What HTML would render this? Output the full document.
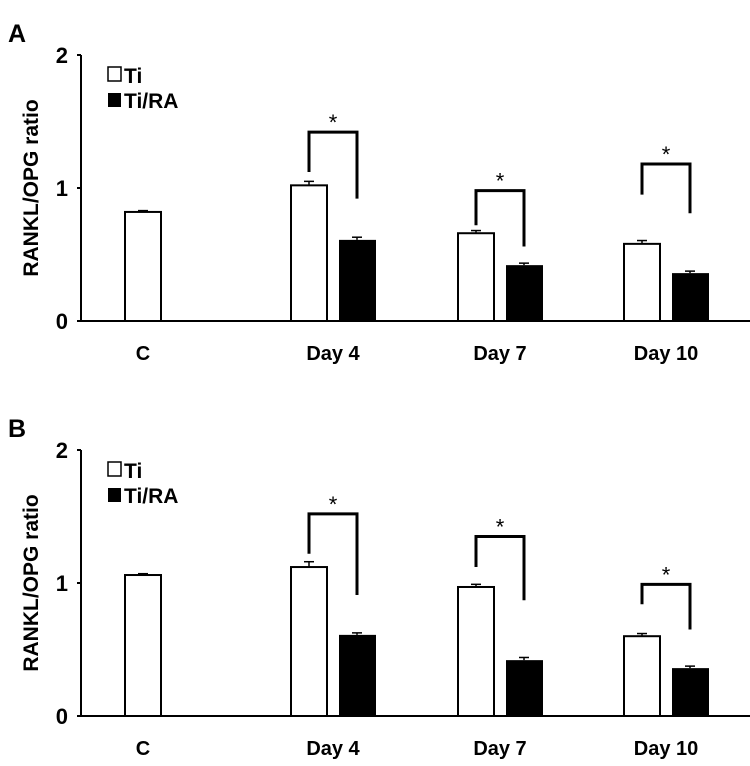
<!DOCTYPE html>
<html><head><meta charset="utf-8"><style>
body{margin:0;background:#fff;width:750px;height:766px;overflow:hidden}
svg{display:block;font-family:"Liberation Sans",Arial,sans-serif}
</style></head><body>
<svg id="chart" width="750" height="766" viewBox="0 0 750 766"></svg>
<script>
const categories = ["C","Day 4","Day 7","Day 10"];
const tiA = [0.82,1.02,0.66,0.58];
const tiErrA = [0.01,0.03,0.02,0.025];
const raA = [null,0.61,0.42,0.36];
const raErrA = [null,0.02,0.015,0.015];
const tiB = [1.06,1.12,0.97,0.60];
const tiErrB = [0.01,0.04,0.02,0.02];
const raB = [null,0.61,0.42,0.36];
const raErrB = [null,0.015,0.02,0.015];
const yTicks = [0,1,2];
// bracket tops (value units) and bracket leg bottoms
const brA = [null,[1.42,1.12,0.92],[0.98,0.72,0.56],[1.18,0.95,0.81]];
const brB = [null,[1.52,1.22,0.91],[1.35,1.12,0.87],[0.99,0.84,0.65]];

const svg=document.getElementById('chart');
const NS='http://www.w3.org/2000/svg';
function mk(tag,attrs,parent){const e=document.createElementNS(NS,tag);for(const k in attrs)e.setAttribute(k,attrs[k]);(parent||svg).appendChild(e);return e;}
const groupX=[143,333,500,666];

function panel(letter,y0,ti,tiE,ra,raE,br){
  const y=v=>y0-v*133;
  const g=mk('g',{});
  
  
  const L=mk('text',{x:8,y:y0-279,'font-size':25,'font-weight':'bold'},g);L.textContent=letter;
  
  
  const ax=mk('line',{x1:81,y1:y(2),x2:81,y2:y0,stroke:'#000','stroke-width':2},g);
  
  const bx=mk('line',{x1:77,y1:y0,x2:750,y2:y0,stroke:'#000','stroke-width':2},g);
  
  yTicks.forEach(t=>{
    mk('line',{x1:77,y1:y(t),x2:81,y2:y(t),stroke:'#000','stroke-width':2},g);
    const tx=mk('text',{x:68,y:y(t)+8,'font-size':22,'font-weight':'bold','text-anchor':'end'},g);tx.textContent=t;
    
  });
  const yt=mk('text',{x:0,y:0,'font-size':21,'font-weight':'bold','text-anchor':'middle',transform:`translate(38,${y(1)}) rotate(-90)`},g);
  yt.textContent='RANKL/OPG ratio';
  
  // legend
  mk('rect',{x:108,y:y(2)+12,width:13,height:14,fill:'#fff',stroke:'#000','stroke-width':1.5},g);
  const l1=mk('text',{x:124,y:y(2)+28,'font-size':21,'font-weight':'bold'},g);l1.textContent='Ti';
  
  mk('rect',{x:108,y:y(2)+38,width:13,height:14,fill:'#000'},g);
  const l2=mk('text',{x:124,y:y(2)+53,'font-size':21,'font-weight':'bold'},g);l2.textContent='Ti/RA';
  
  categories.forEach((c,i)=>{
    const cx=groupX[i];
    const lab=mk('text',{x:cx,y:y0+39,'font-size':20,'font-weight':'bold','text-anchor':'middle'},g);lab.textContent=c;
    
    const wx = i===0? cx-18 : cx-42;
    const b=mk('rect',{x:wx,y:y(ti[i]),width:36,height:ti[i]*133,fill:'#fff',stroke:'#000','stroke-width':2},g);
    
    mk('line',{x1:wx+18,y1:y(ti[i]),x2:wx+18,y2:y(ti[i]+tiE[i]),stroke:'#000','stroke-width':1.5},g);
    mk('line',{x1:wx+13,y1:y(ti[i]+tiE[i]),x2:wx+23,y2:y(ti[i]+tiE[i]),stroke:'#000','stroke-width':1.5},g);
    if(ra[i]!=null){
      const rx=cx+6;
      const r=mk('rect',{x:rx,y:y(ra[i]),width:37,height:ra[i]*133,fill:'#000'},g);
      
      mk('line',{x1:rx+18,y1:y(ra[i]),x2:rx+18,y2:y(ra[i]+raE[i]),stroke:'#000','stroke-width':1.5},g);
      mk('line',{x1:rx+13,y1:y(ra[i]+raE[i]),x2:rx+23,y2:y(ra[i]+raE[i]),stroke:'#000','stroke-width':1.5},g);
      const bb=br[i];
      const x1=wx+18,x2=rx+18;
      const p=mk('polyline',{points:`${x1},${y(bb[1])} ${x1},${y(bb[0])} ${x2},${y(bb[0])} ${x2},${y(bb[2])}`,fill:'none',stroke:'#000','stroke-width':3},g);
      
      const s=mk('text',{x:(x1+x2)/2,y:y(bb[0])-2,'font-size':22,'text-anchor':'middle'},g);s.textContent='*';
      
    }
  });
}
panel('A',321,tiA,tiErrA,raA,raErrA,brA);
panel('B',716,tiB,tiErrB,raB,raErrB,brB);
</script>
</body></html>
